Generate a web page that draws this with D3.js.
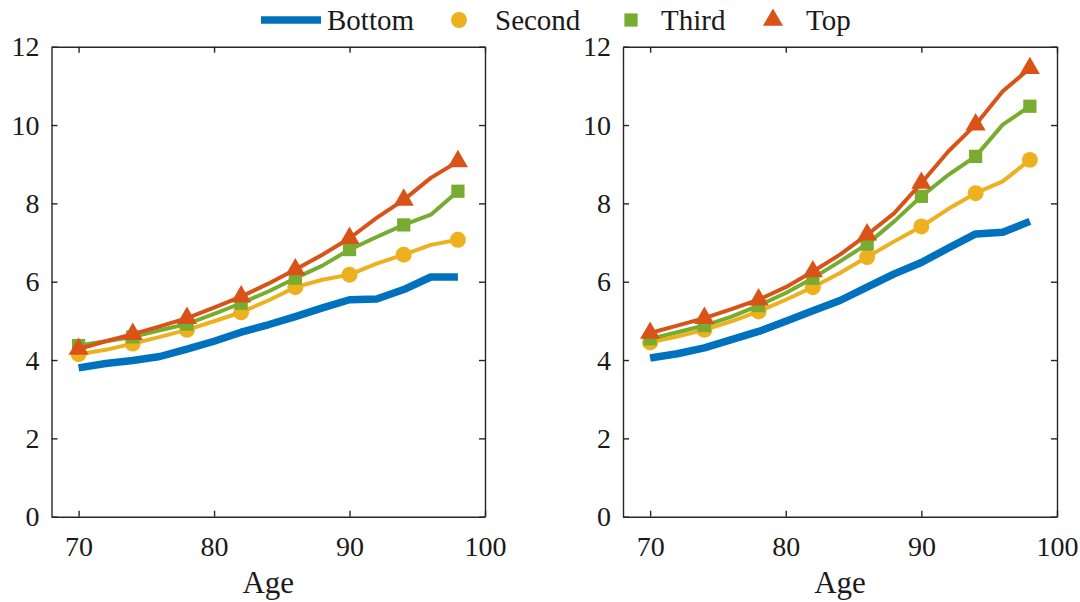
<!DOCTYPE html>
<html>
<head>
<meta charset="utf-8">
<script src="https://cdn.jsdelivr.net/npm/d3@7"></script>
<style>
  body { margin: 0; background: #fff; }
  svg { display: block; }
  text { font-family: "Liberation Serif", "Times New Roman", serif; fill: #1a1a1a; }
</style>
</head>
<body>
<svg id="chart" width="1080" height="602"></svg>
<script>
// Ages on the horizontal axis (lines), and ages that carry a marker
const ages = [70, 72, 74, 76, 78, 80, 82, 84, 86, 88, 90, 92, 94, 96, 98];
const markerAges = [70, 74, 78, 82, 86, 90, 94, 98];

const seriesNames = ["Bottom", "Second", "Third", "Top"];

// Left panel
const leftBottom = [3.80, 3.91, 3.99, 4.09, 4.28, 4.48, 4.71, 4.90, 5.11, 5.33, 5.54, 5.56, 5.80, 6.12, 6.12];
const leftSecond = [4.15, 4.26, 4.42, 4.59, 4.77, 4.99, 5.22, 5.52, 5.86, 6.05, 6.18, 6.46, 6.69, 6.94, 7.07];
const leftThird  = [4.37, 4.48, 4.59, 4.76, 4.92, 5.18, 5.45, 5.75, 6.09, 6.41, 6.82, 7.14, 7.45, 7.71, 8.31];
const leftTop    = [4.28, 4.48, 4.66, 4.86, 5.07, 5.34, 5.62, 5.95, 6.31, 6.69, 7.11, 7.63, 8.09, 8.65, 9.07];

// Right panel
const rightBottom = [4.05, 4.16, 4.31, 4.52, 4.73, 4.99, 5.26, 5.52, 5.86, 6.20, 6.49, 6.86, 7.22, 7.26, 7.54];
const rightSecond = [4.45, 4.60, 4.77, 4.99, 5.24, 5.54, 5.86, 6.22, 6.63, 7.03, 7.41, 7.86, 8.26, 8.56, 9.11];
const rightThird  = [4.54, 4.71, 4.88, 5.11, 5.39, 5.71, 6.09, 6.52, 6.96, 7.54, 8.18, 8.73, 9.20, 10.01, 10.48];
const rightTop    = [4.69, 4.88, 5.07, 5.30, 5.54, 5.86, 6.26, 6.69, 7.20, 7.75, 8.52, 9.33, 10.01, 10.86, 11.45];

const xTicks = [70, 80, 90, 100];
const yTicks = [0, 2, 4, 6, 8, 10, 12];
const xLabel = "Age";

// Series styling
const styles = {
  Bottom: { color: "#0072BD", width: 7.5, symbol: null },
  Second: { color: "#EDB120", width: 4, symbol: d3.symbolCircle, size: 200 },
  Third:  { color: "#77AC30", width: 4, symbol: d3.symbolSquare, size: 175 },
  Top:    { color: "#D95319", width: 4, symbol: d3.symbolTriangle, size: 175 }
};

const serif = '"Liberation Serif", "Times New Roman", serif';
const svg = d3.select("#chart");
const axisColor = "#262626";
const plotTop = 46.7, plotBottom = 516.7;

function drawPanel(x0, x1, data) {
  const x = d3.scaleLinear().domain([68, 100]).range([x0, x1]);
  const y = d3.scaleLinear().domain([0, 12]).range([plotBottom, plotTop]);
  const g = svg.append("g");
  const tickLen = 6;

  // Data lines and markers
  const line = d3.line().x((d, i) => x(ages[i])).y(d => y(d));
  seriesNames.forEach(name => {
    const st = styles[name];
    g.append("path")
      .datum(data[name])
      .attr("d", line)
      .attr("fill", "none")
      .attr("stroke", st.color)
      .attr("stroke-width", st.width)
      .attr("stroke-linejoin", "round");
    if (st.symbol) {
      const pts = ages.map((a, i) => [a, data[name][i]]).filter(p => markerAges.includes(p[0]));
      g.selectAll(null).data(pts).enter().append("path")
        .attr("d", d3.symbol().type(st.symbol).size(st.size))
        .attr("transform", p => `translate(${x(p[0])},${y(p[1])})`)
        .attr("fill", st.color);
    }
  });

  // Box axes with inward ticks on all sides
  const ax = svg.append("g").attr("class", "axes");
  const bottomAxis = d3.axisBottom(x).tickValues(xTicks).tickSizeInner(-tickLen).tickSizeOuter(0).tickPadding(19);
  const topAxis = d3.axisTop(x).tickValues(xTicks).tickSizeInner(-tickLen).tickSizeOuter(0).tickFormat("");
  const leftAxis = d3.axisLeft(y).tickValues(yTicks).tickSizeInner(-tickLen).tickSizeOuter(0).tickPadding(12);
  const rightAxis = d3.axisRight(y).tickValues(yTicks).tickSizeInner(-tickLen).tickSizeOuter(0).tickFormat("");

  [[bottomAxis, `translate(0,${plotBottom})`], [topAxis, `translate(0,${plotTop})`],
   [leftAxis, `translate(${x0},0)`], [rightAxis, `translate(${x1},0)`]].forEach(([a, t]) => {
    const s = ax.append("g").attr("transform", t).call(a);
    s.attr("font-family", null).attr("font-size", null).style("font-family", serif);
    s.select(".domain").attr("stroke", axisColor).attr("stroke-width", 1.4);
    s.selectAll(".tick line").attr("stroke", axisColor).attr("stroke-width", 1.4);
    s.selectAll(".tick text")
      .style("font-family", serif)
      .style("font-size", "28px")
      .style("fill", "#1a1a1a");
  });

  svg.append("text")
    .attr("x", (x0 + x1) / 2)
    .attr("y", 593)
    .attr("text-anchor", "middle")
    .style("font-size", "31px")
    .text(xLabel);
}

drawPanel(51.5, 485, { Bottom: leftBottom, Second: leftSecond, Third: leftThird, Top: leftTop });
drawPanel(623, 1057, { Bottom: rightBottom, Second: rightSecond, Third: rightThird, Top: rightTop });

// Legend across the top
const legendY = 20;
const legendItems = [
  { name: "Bottom", keyX: 291, textX: 327 },
  { name: "Second", keyX: 459, textX: 495 },
  { name: "Third", keyX: 631, textX: 661 },
  { name: "Top", keyX: 773, textX: 806 }
];
const legend = svg.append("g");
legendItems.forEach(it => {
  const st = styles[it.name];
  if (st.symbol) {
    legend.append("path")
      .attr("d", d3.symbol().type(st.symbol).size(st.size))
      .attr("transform", `translate(${it.keyX},${legendY})`)
      .attr("fill", st.color);
  } else {
    legend.append("line")
      .attr("x1", it.keyX - 30).attr("x2", it.keyX + 30)
      .attr("y1", legendY).attr("y2", legendY)
      .attr("stroke", st.color).attr("stroke-width", st.width);
  }
  legend.append("text")
    .attr("x", it.textX)
    .attr("y", legendY + 10)
    .style("font-size", "29px")
    .text(it.name);
});
</script>
</body>
</html>
